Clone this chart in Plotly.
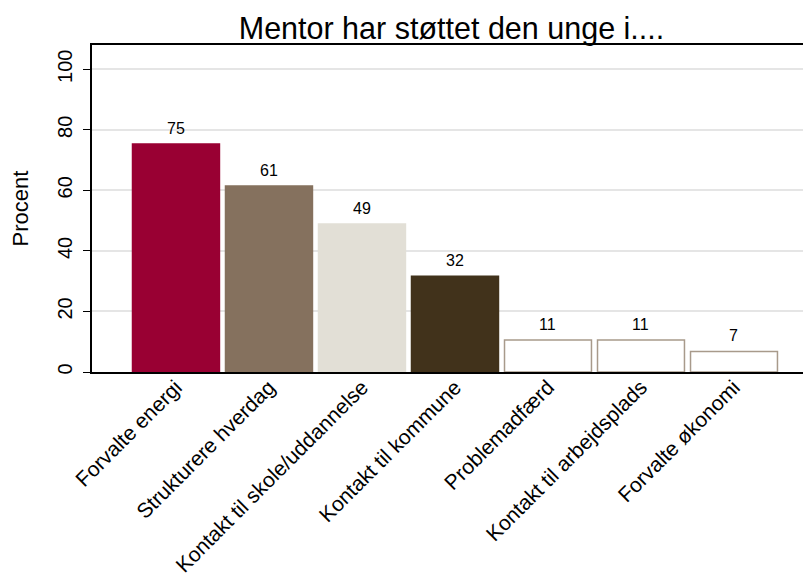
import plotly.graph_objects as go

categories = ["Forvalte energi", "Strukturere hverdag", "Kontakt til skole/uddannelse",
              "Kontakt til kommune", "Problemadfærd", "Kontakt til arbejdsplads", "Forvalte økonomi"]
values = [75.3, 61.4, 48.9, 31.6, 10.6, 10.6, 6.8]
labels = ["75", "61", "49", "32", "11", "11", "7"]
fill_colors = ["#990033", "#85715e", "#e2dfd6", "#41321b", "#ffffff", "#ffffff", "#ffffff"]
line_colors = ["#990033", "#85715e", "#e2dfd6", "#41321b", "#a89a8b", "#a89a8b", "#a89a8b"]
y_ticks = [0, 20, 40, 60, 80, 100]

FONT = "Liberation Sans, Arial, sans-serif"

fig = go.Figure()
xs = list(range(len(categories)))
fig.add_trace(go.Bar(
    x=xs, y=values,
    marker=dict(color=fill_colors, line=dict(color=line_colors, width=1.5)),
    width=0.935,
))
for xi, v, lab in zip(xs, values, labels):
    fig.add_annotation(x=xi, y=v, text=lab, showarrow=False, yanchor="bottom",
                       yshift=5, font=dict(family=FONT, size=16, color="#000000"))

# page has an 8px body margin, so the figure is 8px smaller than the window
fig.update_layout(
    width=803, height=575,
    margin=dict(l=84, r=0, t=37, b=211, autoexpand=False),
    plot_bgcolor="#ffffff", paper_bgcolor="#ffffff",
    showlegend=False,
    title=dict(text="Mentor har støttet den unge i....", xref="container", x=0.5523,
               xanchor="center", yref="container", y=1 - 20 / 575, yanchor="middle",
               font=dict(family=FONT, size=30.5, color="#000000")),
    font=dict(family=FONT, color="#000000"),
)
fig.update_xaxes(
    range=[-0.903, 6.828], automargin=False,
    tickmode="array", tickvals=xs, ticktext=categories,
    tickangle=-45, tickfont=dict(size=21),
    ticks="", ticklabelstandoff=-7,
    showline=True, linecolor="#000000", linewidth=1.5, mirror=True,
    showgrid=False, zeroline=False,
)
fig.update_yaxes(
    range=[0, 108], automargin=False,
    tickmode="array", tickvals=y_ticks,
    tickangle=-90, tickfont=dict(size=20),
    ticks="outside", ticklen=7, tickcolor="#000000", ticklabelstandoff=3,
    showline=True, linecolor="#000000", linewidth=1.5,
    showgrid=True, gridcolor="#e5e5e5", gridwidth=1.5,
    zeroline=False,
    title=dict(text="Procent", font=dict(size=22), standoff=21),
)

fig.write_html("out.html")
